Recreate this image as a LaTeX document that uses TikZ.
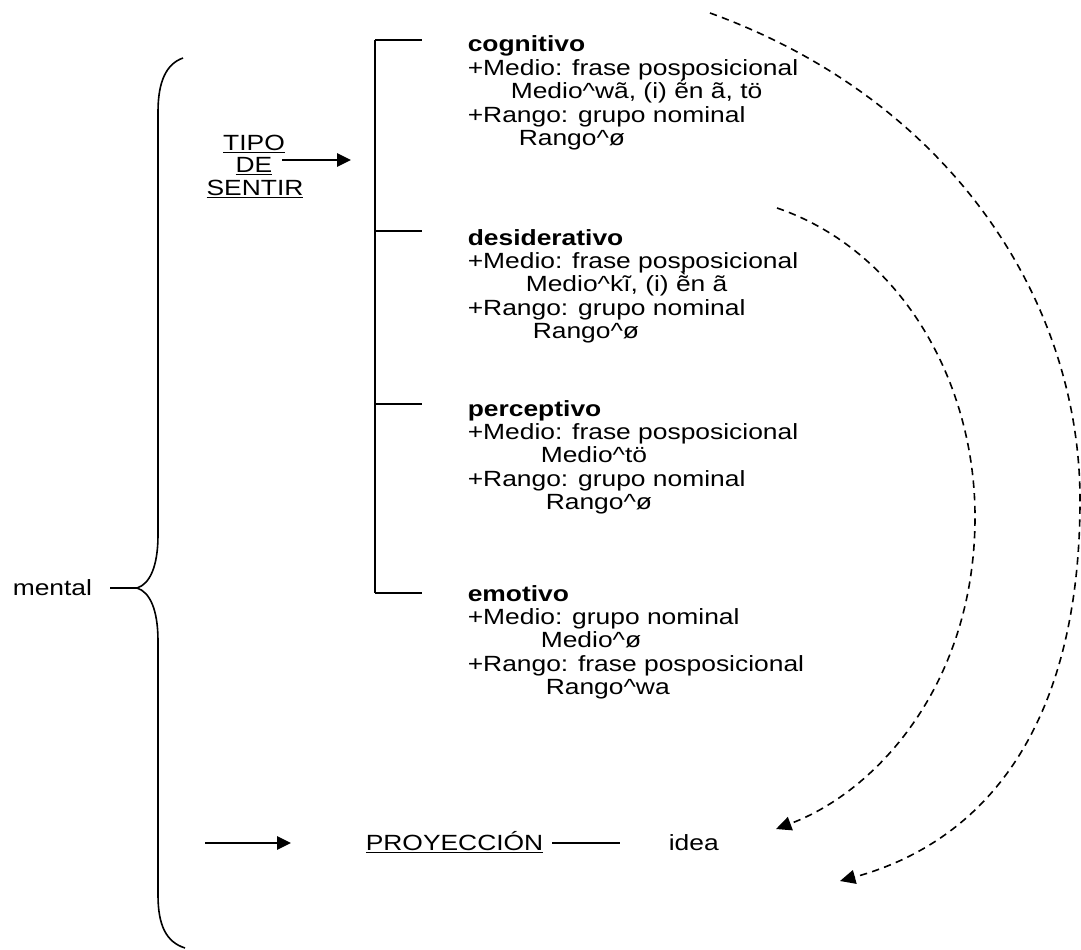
\documentclass[tikz,border=0pt]{standalone}
\usepackage{fontspec}
\setmainfont{Liberation Sans}[FakeStretch=1.2]
\usetikzlibrary{arrows.meta}
\tikzset{
  txt/.style={inner sep=0pt, anchor=base west, font=\fontsize{16.5}{17.5}\selectfont},
  head/.style={txt, font=\fontsize{16.5}{17.5}\selectfont\bfseries},
  solidtip/.style={-{Triangle[length=10.5pt,width=10pt]}},
  dashtip/.style={dash pattern=on 5.5pt off 4pt, -{Triangle[length=11.5pt,width=10.5pt]}},
}
\newcommand{\ul}[1]{\underline{#1}}
\newcommand{\caret}{\textasciicircum}
\begin{document}
\begin{tikzpicture}[x=0.75pt,y=-0.75pt,line width=1.2pt]
\useasboundingbox (0,0) rectangle (1081,949);

% left brace grouping everything under "mental"
\node[txt] (mental) at (12,595) {mental};
\coordinate (cusp) at (137,588);
\draw (110,588) -- (cusp);
\draw (183,58) .. controls (166,64) and (158,82) .. (158,112) -- (158,535)
      .. controls (158,566) and (150,584) .. (cusp)
      .. controls (150,592) and (158,610) .. (158,641) -- (158,895)
      .. controls (158,925) and (166,942) .. (185,948);

% TIPO DE SENTIR
\node[txt, anchor=base] (tipo)   at (254,150.5) {\ul{TIPO}};
\node[txt, anchor=base] (de)     at (254,172.5) {\ul{DE}};
\node[txt, anchor=base] (sentir) at (255,195.5) {\ul{SENTIR}};
\coordinate (tipoA) at (282,160);
\coordinate (tipoB) at (351,160);
\draw[solidtip] (tipoA) -- (tipoB);

% square bracket with four branches
\coordinate (b1) at (375,40);
\coordinate (b2) at (375,231);
\coordinate (b3) at (375,404);
\coordinate (b4) at (375,593);
\draw (b1) -- (b4);
\foreach \b in {b1,b2,b3,b4} \draw (\b) -- ++(47,0);

% cognitivo
\node[head] (cogH) at (467,52)    {cognitivo};
\node[txt]  (cog1) at (467,75.4)  {+Medio: frase posposicional};
\node[txt]  (cog2) at (510,98.8)  {Medio\caret wã, (i) ẽ́n ã, tö};
\node[txt]  (cog3) at (467,122.2) {+Rango: grupo nominal};
\node[txt]  (cog4) at (518,145.6) {Rango\caret ø};

% desiderativo
\node[head] (desH) at (467,245)   {desiderativo};
\node[txt]  (des1) at (467,268.4) {+Medio: frase posposicional};
\node[txt]  (des2) at (525,291.8) {Medio\caret kĩ, (i) ẽ̀n ã};
\node[txt]  (des3) at (467,315.2) {+Rango: grupo nominal};
\node[txt]  (des4) at (532,338.6) {Rango\caret ø};

% perceptivo
\node[head] (perH) at (467,416)   {perceptivo};
\node[txt]  (per1) at (467,439.4) {+Medio: frase posposicional};
\node[txt]  (per2) at (540,462.8) {Medio\caret tö};
\node[txt]  (per3) at (467,486.2) {+Rango: grupo nominal};
\node[txt]  (per4) at (545,509.6) {Rango\caret ø};

% emotivo
\node[head] (emoH) at (467,601)   {emotivo};
\node[txt]  (emo1) at (467,624.4) {+Medio: grupo nominal};
\node[txt]  (emo2) at (540,647.8) {Medio\caret ø};
\node[txt]  (emo3) at (467,671.2) {+Rango: frase posposicional};
\node[txt]  (emo4) at (545,694.6) {Rango\caret wa};

% projection row
\node[txt] (proy) at (365,850) {\ul{PROYECCIÓN}};
\node[txt] (idea) at (668,850) {idea};
\coordinate (pin) at (205,843);
\coordinate (ptip) at (291,843);
\draw[solidtip] (pin) -- (ptip);
\draw ([xshift=6pt,yshift=5.25pt]proy.base east) -- ([xshift=-36pt,yshift=5.25pt]idea.base west);

% dashed projection arcs
\coordinate (arcOutS) at (710,13);
\coordinate (arcOutE) at (840,881);
\coordinate (arcInS)  at (777,208);
\coordinate (arcInE)  at (776,829);
\draw[dashtip] (arcOutS) .. controls (950,100) and (1080,300) .. (1080,500)
      .. controls (1080,720) and (990,840) .. (arcOutE);
\draw[dashtip] (arcInS) .. controls (900,250) and (975,380) .. (975,517)
      .. controls (975,680) and (880,790) .. (arcInE);
\end{tikzpicture}
\end{document}
